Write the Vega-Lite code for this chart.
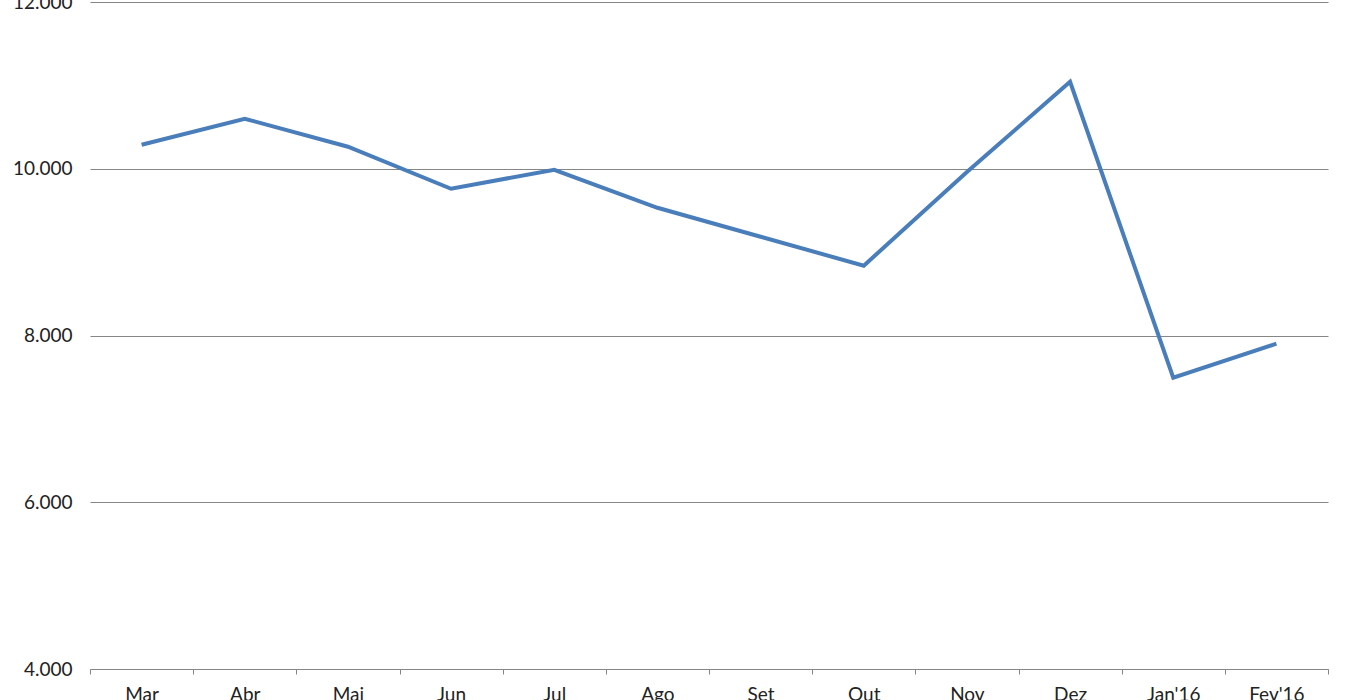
{
  "$schema": "https://vega.github.io/schema/vega-lite/v6.json",
  "width": 1238,
  "height": 667,
  "autosize": {"type": "none"},
  "padding": {"left": 90, "top": 2, "right": 22, "bottom": 31},
  "background": "white",
  "data": {"values": [
    {"mes": "Mar", "valor": 10288},
    {"mes": "Abr", "valor": 10600},
    {"mes": "Mai", "valor": 10264},
    {"mes": "Jun", "valor": 9760},
    {"mes": "Jul", "valor": 9988},
    {"mes": "Ago", "valor": 9532},
    {"mes": "Set", "valor": 9185},
    {"mes": "Out", "valor": 8837},
    {"mes": "Nov", "valor": 9960},
    {"mes": "Dez", "valor": 11043},
    {"mes": "Jan'16", "valor": 7494},
    {"mes": "Fev'16", "valor": 7902}
  ]},
  "mark": {"type": "line", "color": "#4a7ebb", "strokeWidth": 4, "strokeJoin": "miter"},
  "encoding": {
    "x": {
      "field": "mes", "type": "ordinal", "sort": null,
      "scale": {"type": "band", "paddingInner": 0, "paddingOuter": 0},
      "axis": {
        "title": null, "labelAngle": 0, "tickBand": "extent",
        "domainColor": "#868686", "tickColor": "#868686", "tickSize": 5,
        "labelPadding": 11, "labelFontSize": 19, "labelFont": "Lato", "labelColor": "#222",
        "labelBaseline": "top", "grid": false
      }
    },
    "y": {
      "field": "valor", "type": "quantitative",
      "scale": {"domain": [4000, 12000], "nice": false},
      "axis": {
        "title": null, "values": [4000, 6000, 8000, 10000, 12000], "format": ",d",
        "domain": false, "ticks": false, "grid": true, "gridColor": "#868686", "gridWidth": 1, "gridOpacity": 1,
        "labelPadding": 18, "labelFontSize": 19, "labelFont": "Lato", "labelColor": "#222"
      }
    }
  },
  "config": {
    "view": {"stroke": null},
    "locale": {"number": {"decimal": ",", "thousands": ".", "grouping": [3], "currency": ["R$", ""]}}
  }
}
